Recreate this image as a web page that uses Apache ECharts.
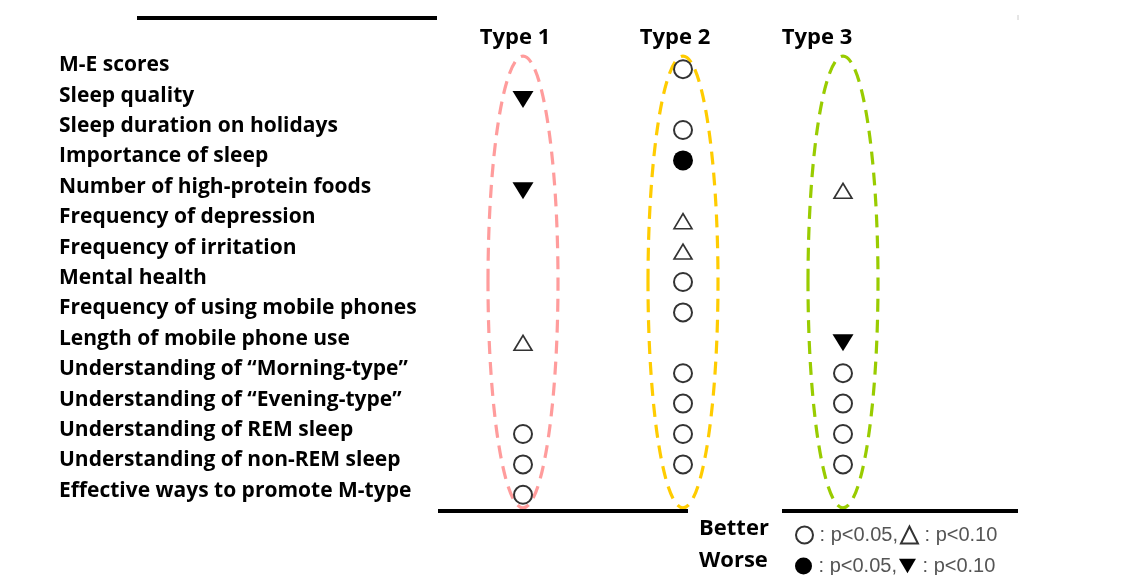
<!DOCTYPE html>
<html>
<head>
<meta charset="utf-8">
<script src="https://cdn.jsdelivr.net/npm/echarts@6/dist/echarts.min.js"></script>
<style>
    html, body { margin: 0; background: #fff; }
    #chart { width: 1143px; height: 575px; }
</style>
</head>
<body>
<div id="chart"></div>
<script>
    var items = [
        'M-E scores',
        'Sleep quality',
        'Sleep duration on holidays',
        'Importance of sleep',
        'Number of high-protein foods',
        'Frequency of depression',
        'Frequency of irritation',
        'Mental health',
        'Frequency of using mobile phones',
        'Length of mobile phone use',
        'Understanding of \u201cMorning-type\u201d',
        'Understanding of \u201cEvening-type\u201d',
        'Understanding of REM sleep',
        'Understanding of non-REM sleep',
        'Effective ways to promote M-type'
    ];
    var types = ['Type 1', 'Type 2', 'Type 3'];
    // B05 better p<0.05, B10 better p<0.10, W05 worse p<0.05, W10 worse p<0.10
    var type1 = ['', 'W10', '', '', 'W10', '', '', '', '', 'B10', '', '', 'B05', 'B05', 'B05'];
    var type2 = ['B05', '', 'B05', 'W05', '', 'B10', 'B10', 'B05', 'B05', '', 'B05', 'B05', 'B05', 'B05', ''];
    var type3 = ['', '', '', '', 'B10', '', '', '', '', 'W10', 'B05', 'B05', 'B05', 'B05', ''];
    var ovalColors = ['#ff9c9c', '#ffcc00', '#99cc00'];

    var kinds = ['B05', 'B10', 'W05', 'W10'];
    var legendText = {B05: ' : p<0.05,', B10: ' : p<0.10', W05: ' : p<0.05,', W10: ' : p<0.10'};
    var downTri = 'path://M0,0 L20,0 L10,17 Z';
    var styles = {
        B05: {symbol: 'circle', symbolSize: 18, itemStyle: {color: '#fff', borderColor: '#333', borderWidth: 2, opacity: 1}},
        B10: {symbol: 'triangle', symbolSize: [18, 15], itemStyle: {color: '#fff', borderColor: '#333', borderWidth: 1.6, opacity: 1}},
        W05: {symbol: 'circle', symbolSize: 20, itemStyle: {color: '#000', opacity: 1}},
        W10: {symbol: downTri, symbolSize: [21, 17], itemStyle: {color: '#000', opacity: 1}}
    };

    var marks = [type1, type2, type3];
    var series = kinds.map(function (k) {
        var data = [];
        marks.forEach(function (col, t) {
            col.forEach(function (m, r) {
                if (m === k) data.push([types[t], items[r]]);
            });
        });
        return Object.assign({
            name: k,
            type: 'scatter',
            data: data,
            silent: true
        }, styles[k]);
    });

    var chart = echarts.init(document.getElementById('chart'));
    var legendBase = {
        orient: 'horizontal',
        left: 790,
        itemWidth: 17,
        itemHeight: 17,
        itemGap: 2,
        selectedMode: false,
        formatter: function (name) { return legendText[name]; },
        textStyle: {fontFamily: 'Liberation Sans', fontSize: 20, color: '#555', padding: [0, 0, 0, -4]}
    };

    chart.setOption({
        animation: false,
        backgroundColor: '#fff',
        grid: {left: 443, right: 220, top: 54, bottom: 65},
        xAxis: {
            type: 'category',
            data: types,
            show: false
        },
        yAxis: {
            type: 'category',
            data: items,
            inverse: true,
            axisLine: {show: false},
            axisTick: {show: false},
            splitLine: {show: false},
            axisLabel: {
                align: 'left',
                margin: 384,
                verticalAlign: 'bottom',
                lineHeight: 8,
                fontFamily: 'Open Sans',
                fontWeight: 'bold',
                fontSize: 21,
                color: '#000'
            }
        },
        legend: [
            Object.assign({data: ['B05', 'B10'], top: 520}, legendBase),
            Object.assign({data: ['W05', 'W10'], top: 551}, legendBase)
        ],
        series: series
    });

    // ovals around each type column and the table rules
    var graphics = [];
    var headerShift = [-8, -8, -26];
    types.forEach(function (t, i) {
        var top = chart.convertToPixel({gridIndex: 0}, [i, 0]);
        var bot = chart.convertToPixel({gridIndex: 0}, [i, items.length - 1]);
        graphics.push({
            type: 'ellipse',
            shape: {cx: top[0], cy: (top[1] + bot[1]) / 2, rx: 35, ry: (bot[1] - top[1]) / 2 + 13},
            style: {fill: 'none', stroke: ovalColors[i], lineWidth: 3.2, lineDash: [13, 8]},
            silent: true,
            z: 1
        });
        graphics.push({
            type: 'text',
            x: top[0] + headerShift[i],
            y: 38,
            style: {text: t, font: 'bold 22px "Open Sans"', fill: '#000', align: 'center', verticalAlign: 'middle'}
        });
    });
    graphics.push(
        {type: 'line', shape: {x1: 137, y1: 18, x2: 437, y2: 18}, style: {stroke: '#000', lineWidth: 4}},
        {type: 'line', shape: {x1: 438, y1: 511, x2: 688, y2: 511}, style: {stroke: '#000', lineWidth: 4}, z: 5},
        {type: 'line', shape: {x1: 782, y1: 511, x2: 1018, y2: 511}, style: {stroke: '#000', lineWidth: 4}, z: 5},
        {type: 'line', shape: {x1: 1018, y1: 15, x2: 1018, y2: 20}, style: {stroke: '#ccc', lineWidth: 1}},
        {type: 'text', x: 699, y: 529, style: {text: 'Better', font: 'bold 22px "Open Sans"', fill: '#000', verticalAlign: 'middle'}},
        {type: 'text', x: 699, y: 561, style: {text: 'Worse', font: 'bold 22px "Open Sans"', fill: '#000', verticalAlign: 'middle'}}
    );
    chart.setOption({graphic: graphics});
</script>
</body>
</html>
